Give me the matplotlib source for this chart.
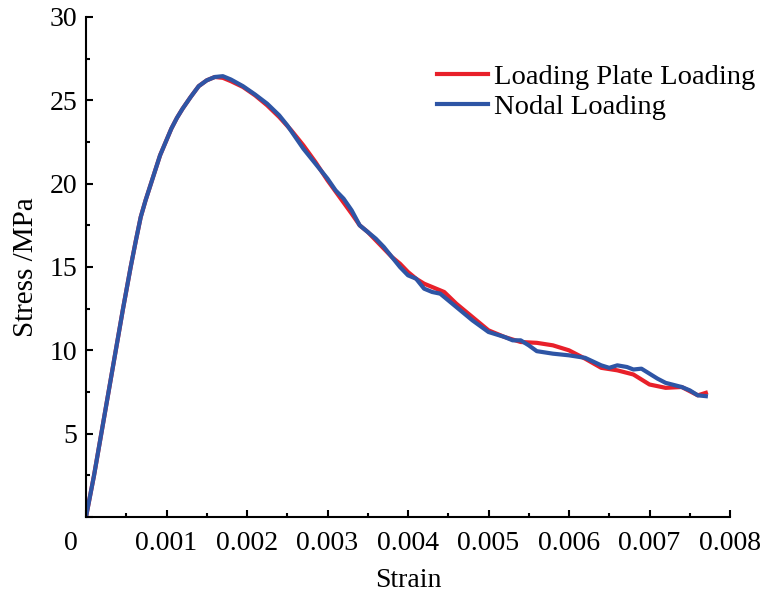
import matplotlib
matplotlib.use('Agg')
import matplotlib.pyplot as plt
import matplotlib.transforms as mtransforms
import numpy as np

plt.rcParams['font.family'] = ['Liberation Serif', 'DejaVu Serif']
plt.rcParams['font.size'] = 20

# rising part is shared by both loading methods
strain_rise = [0, 0.0001, 0.00019, 0.00028, 0.00037, 0.00046, 0.000555, 0.00062,
               0.00068, 0.00074, 0.0008, 0.00086, 0.00092, 0.00099, 0.00106, 0.00113,
               0.0012, 0.0013, 0.0014, 0.0015, 0.0016]
stress_rise = [0, 2.5, 5, 7.5, 10, 12.5, 15, 16.6,
               18.0, 19.0, 19.9, 20.8, 21.7, 22.5, 23.3, 23.95,
               24.5, 25.2, 25.85, 26.2, 26.4]

strain_plate = strain_rise + [0.0017, 0.0018, 0.00195, 0.0021, 0.00225, 0.0024, 0.00255,
                              0.0027, 0.00285, 0.003, 0.00315, 0.0033, 0.0034, 0.0035,
                              0.0036, 0.0037, 0.0038, 0.0039, 0.004, 0.0041, 0.0042,
                              0.0043, 0.00445, 0.0046, 0.0048, 0.005, 0.0052, 0.0054,
                              0.0056, 0.0058, 0.006, 0.0062, 0.0064, 0.0066, 0.0068,
                              0.007, 0.0072, 0.0074, 0.0076, 0.0077]
stress_plate = stress_rise + [26.35, 26.15, 25.8, 25.3, 24.7, 24.0, 23.2,
                              22.3, 21.3, 20.2, 19.2, 18.2, 17.5, 17.1,
                              16.6, 16.1, 15.6, 15.2, 14.7, 14.3, 14.0,
                              13.8, 13.5, 12.8, 12.0, 11.2, 10.8, 10.5,
                              10.45, 10.3, 10.0, 9.5, 8.95, 8.8, 8.55,
                              7.95, 7.75, 7.8, 7.3, 7.45]

strain_nodal = strain_rise + [0.0017, 0.0018, 0.00195, 0.0021, 0.00225, 0.0024, 0.0025,
                              0.0026, 0.0027, 0.00285, 0.003, 0.0031, 0.0032, 0.0033,
                              0.0034, 0.0035, 0.0036, 0.0037, 0.0038, 0.0039, 0.004,
                              0.0041, 0.0042, 0.0043, 0.0044, 0.0045, 0.0046, 0.0048,
                              0.005, 0.0052, 0.0053, 0.0054, 0.0055, 0.0056, 0.0058,
                              0.006, 0.0062, 0.0064, 0.0065, 0.0066, 0.00672, 0.0068,
                              0.0069, 0.0071, 0.0072, 0.0074, 0.0075, 0.0076, 0.0077]
stress_nodal = stress_rise + [26.45, 26.25, 25.85, 25.35, 24.8, 24.1, 23.5,
                              22.8, 22.1, 21.2, 20.3, 19.6, 19.1, 18.4,
                              17.5, 17.1, 16.7, 16.2, 15.6, 15.0, 14.5,
                              14.3, 13.7, 13.5, 13.4, 13.0, 12.6, 11.8,
                              11.1, 10.8, 10.6, 10.6, 10.3, 9.95, 9.8,
                              9.7, 9.55, 9.1, 8.95, 9.1, 9.0, 8.85,
                              8.9, 8.3, 8.05, 7.8, 7.6, 7.3, 7.25]

x_ticks = [0, 0.001, 0.002, 0.003, 0.004, 0.005, 0.006, 0.007, 0.008]
x_labels = ['0', '0.001', '0.002', '0.003', '0.004', '0.005', '0.006', '0.007', '0.008']
y_ticks = [0, 5, 10, 15, 20, 25, 30]
y_labels = ['', '5', '10', '15', '20', '25', '30']

fig = plt.figure(figsize=(7.62, 5.95), dpi=100)
ax = fig.add_axes([86 / 762, 1 - 517 / 595, 644 / 762, 500 / 595])

ax.plot(strain_plate, stress_plate, color='#E8202A', lw=3, label='Loading Plate Loading')
ax.plot(strain_nodal, stress_nodal, color='#2E55A5', lw=3, label='Nodal Loading')

ax.set_xlim(0, 0.008)
ax.set_ylim(0, 30)
ax.set_xticks(x_ticks)
ax.set_xticklabels(x_labels)
ax.set_yticks(y_ticks)
ax.set_yticklabels(y_labels)
ax.set_xticks(np.arange(0.0005, 0.008, 0.001), minor=True)
ax.set_yticks(np.arange(2.5, 30, 5), minor=True)

for side in ['top', 'right']:
    ax.spines[side].set_visible(False)
for side in ['left', 'bottom']:
    ax.spines[side].set_linewidth(1.5)
ax.tick_params(which='major', direction='in', length=5, width=1.5)
ax.tick_params(which='minor', direction='in', length=3, width=1.5)
ax.tick_params(axis='x', which='major', pad=10)
ax.tick_params(axis='y', which='major', pad=6)

# the "0" of the strain axis sits left of the corner
zero_lbl = ax.get_xticklabels()[0]
zero_lbl.set_horizontalalignment('right')
zero_lbl.set_transform(zero_lbl.get_transform() +
                       mtransforms.ScaledTranslation(-8 / 100, 0, fig.dpi_scale_trans))

ax.set_xlabel('Strain', labelpad=9)
ax.set_ylabel('Stress /MPa', fontsize=21, labelpad=8)

ax.legend(loc='upper left', bbox_to_anchor=(0.545, 0.905), frameon=False,
          borderaxespad=0, borderpad=0, handlelength=1.8, handletextpad=0.2,
          labelspacing=0.12, fontsize=20.5)

fig.savefig('out.png', dpi=100)
